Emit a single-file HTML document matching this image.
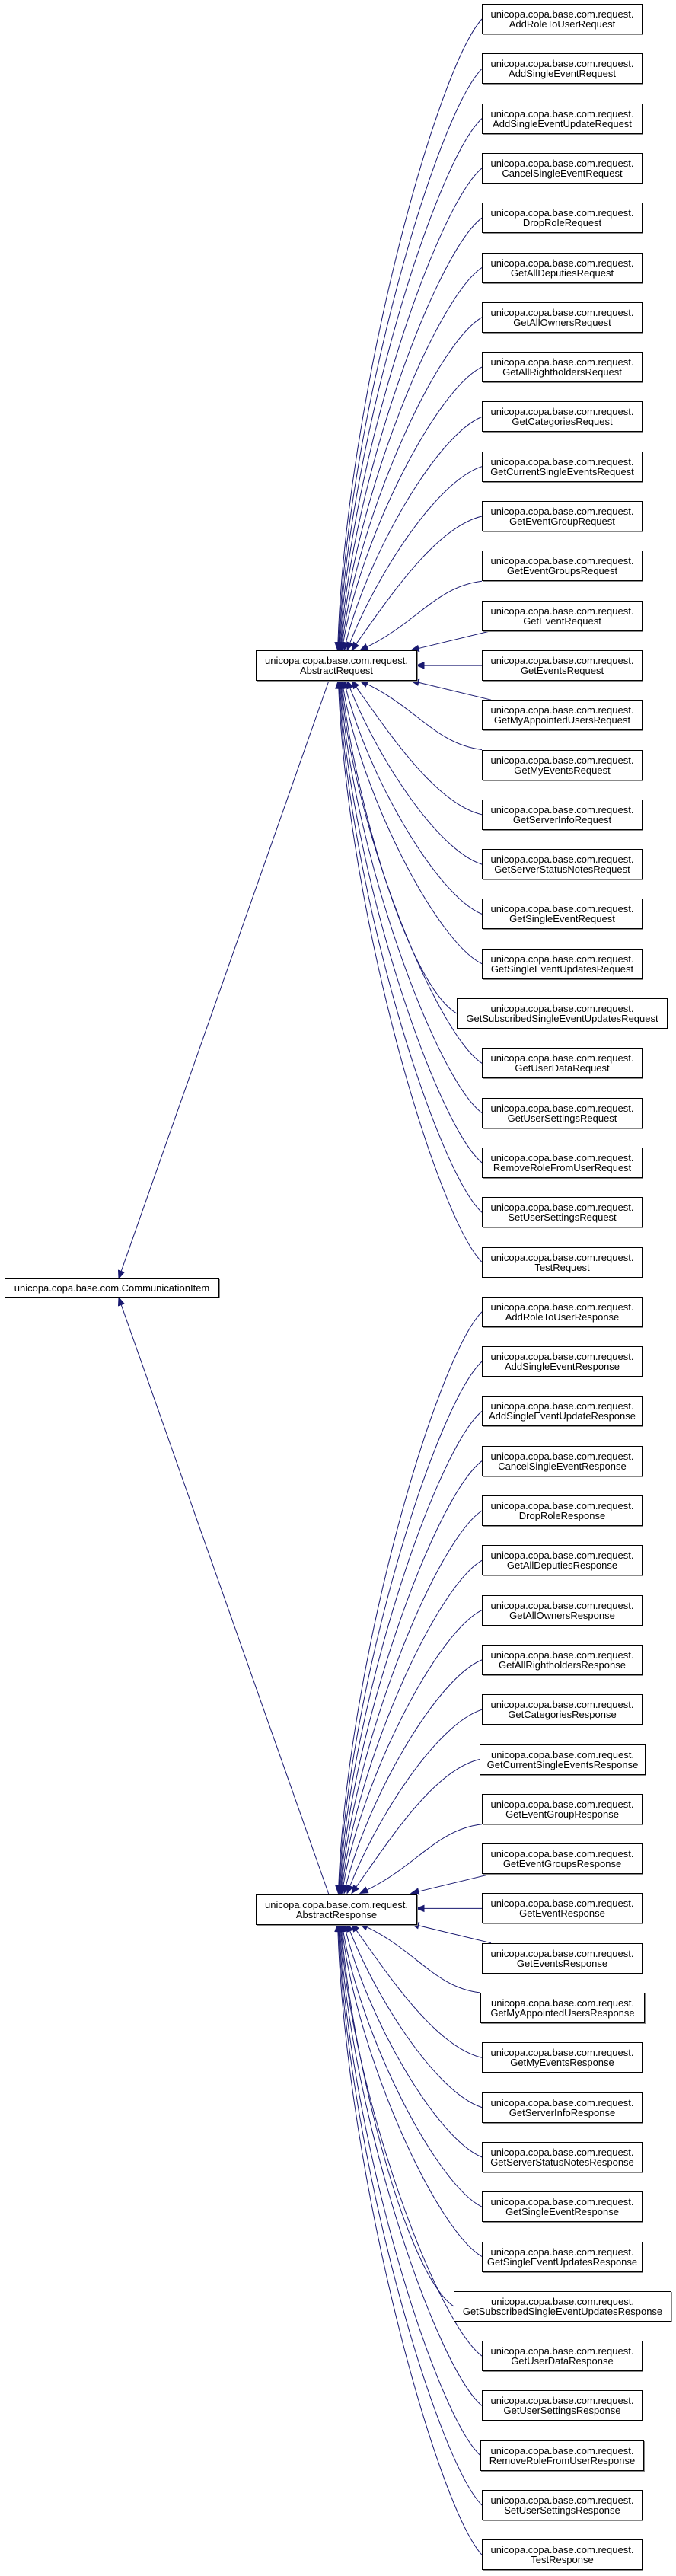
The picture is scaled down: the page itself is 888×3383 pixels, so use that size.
<!DOCTYPE html>
<html><head><meta charset="utf-8">
<style>
html,body{margin:0;padding:0;background:#fff;}
body{width:888px;height:3383px;position:relative;overflow:hidden;font-family:"Liberation Sans",Arial,sans-serif;font-size:13px;color:#000;}
.b{position:absolute;height:38px;border:1px solid #000;background:#fff;box-sizing:content-box;text-align:center;line-height:13px;padding-top:0;display:flex;flex-direction:column;justify-content:center;white-space:nowrap;box-shadow:1px 1px 0 #888;}
svg{position:absolute;left:0;top:0;}
</style></head><body>
<svg id="s" width="888" height="3383" viewBox="0 0 888 3383"></svg>
<div id="boxes"></div>
<div class="b" style="left:6px;top:1679px;width:280px;height:23px;">unicopa.copa.base.com.CommunicationItem</div>
<div class="b" style="left:336px;top:854px;width:210px;">unicopa.copa.base.com.request.<br>AbstractRequest</div>
<div class="b" style="left:336px;top:2488px;width:210px;">unicopa.copa.base.com.request.<br>AbstractResponse</div>
<script>
var req=["AddRoleToUser","AddSingleEvent","AddSingleEventUpdate","CancelSingleEvent","DropRole","GetAllDeputies","GetAllOwners","GetAllRightholders","GetCategories","GetCurrentSingleEvents","GetEventGroup","GetEventGroups","GetEvent","GetEvents","GetMyAppointedUsers","GetMyEvents","GetServerInfo","GetServerStatusNotes","GetSingleEvent","GetSingleEventUpdates","GetSubscribedSingleEventUpdates","GetUserData","GetUserSettings","RemoveRoleFromUser","SetUserSettings","Test"];
var wide={"GetSubscribedSingleEventUpdatesRequest":[600,877],"GetSubscribedSingleEventUpdatesResponse":[596,882],"GetCurrentSingleEventsResponse":[630,848],"GetMyAppointedUsersResponse":[631,847],"RemoveRoleFromUserResponse":[631,846]};
var P=65.3,html="",svg="",C="#191970";
function arrow(x,y,fx,fy){var dx=x-fx,dy=y-fy,l=Math.sqrt(dx*dx+dy*dy)||1;dx/=l;dy/=l;var L=10,W=4,bx=x-dx*L,by=y-dy*L;
return '<polygon points="'+x.toFixed(1)+','+y.toFixed(1)+' '+(bx-dy*W).toFixed(1)+','+(by+dx*W).toFixed(1)+' '+(bx+dy*W).toFixed(1)+','+(by-dx*W).toFixed(1)+'" fill="'+C+'" stroke="'+C+'"/>';}
function xe(d){if(d==1)return 540;if(d==2)return 473;if(d==3)return 462;if(d==4)return 456;if(d==5)return 452;return 450-(d-5)*0.8;}
for(var g=0;g<2;g++){
 var suf=g?"Response":"Request",prow=g?38:13,ptop=5+prow*P,pbot=ptop+40,pcy=ptop+20;
 for(var k=0;k<26;k++){
  var i=g*26+k,t=5+i*P,nm=req[k]+suf,w=wide[nm]||[633,844];
  html+='<div class="b" style="left:'+w[0]+'px;top:'+t.toFixed(1)+'px;width:'+(w[1]-w[0]-2)+'px;">unicopa.copa.base.com.request.<br>'+nm+'</div>';
  var cy=t+20,x0=w[0],d=Math.abs(i-prow);
  if(d==0){svg+='<path d="M'+x0+','+pcy+' L557,'+pcy+'" stroke="'+C+'" fill="none"/>'+arrow(547,pcy,600,pcy);continue;}
  var up=i<prow,ty=up?ptop:pbot,ex=xe(d),sy=cy,sx=x0;
  if(d==1){sx=x0+12;sy=up?t+40:t;
   var ang=arrow(ex,ty,sx,sy);var dx=ex-sx,dy=ty-sy,l=Math.sqrt(dx*dx+dy*dy);
   svg+='<path d="M'+sx+','+sy.toFixed(1)+' L'+(ex-dx/l*9).toFixed(1)+','+(ty-dy/l*9).toFixed(1)+'" stroke="'+C+'" fill="none"/>'+ang;continue;}
  if(d==2){sy=up?t+40:t;}
  var h=ty-sy,p1x=sx-60,p1y=sy+h*0.08,p2x=ex+150/d,p2y=ty-h*0.4;
  var dx2=ex-p2x,dy2=ty-p2y,l2=Math.sqrt(dx2*dx2+dy2*dy2),enx=ex-dx2/l2*9,eny=ty-dy2/l2*9;
  svg+='<path d="M'+sx+','+sy.toFixed(1)+' C'+p1x+','+p1y.toFixed(1)+' '+p2x.toFixed(1)+','+p2y.toFixed(1)+' '+enx.toFixed(1)+','+eny.toFixed(1)+'" stroke="'+C+'" fill="none"/>'+arrow(ex,ty,p2x,p2y);
 }
}
svg+='<path d="M432,894 L159,1670" stroke="'+C+'" fill="none"/>'+arrow(156,1679,432,894);
svg+='<path d="M432,2488 L159,1713" stroke="'+C+'" fill="none"/>'+arrow(156,1704,432,2488);
document.getElementById("boxes").innerHTML=html;
document.getElementById("s").innerHTML=svg;
</script>
</body></html>
